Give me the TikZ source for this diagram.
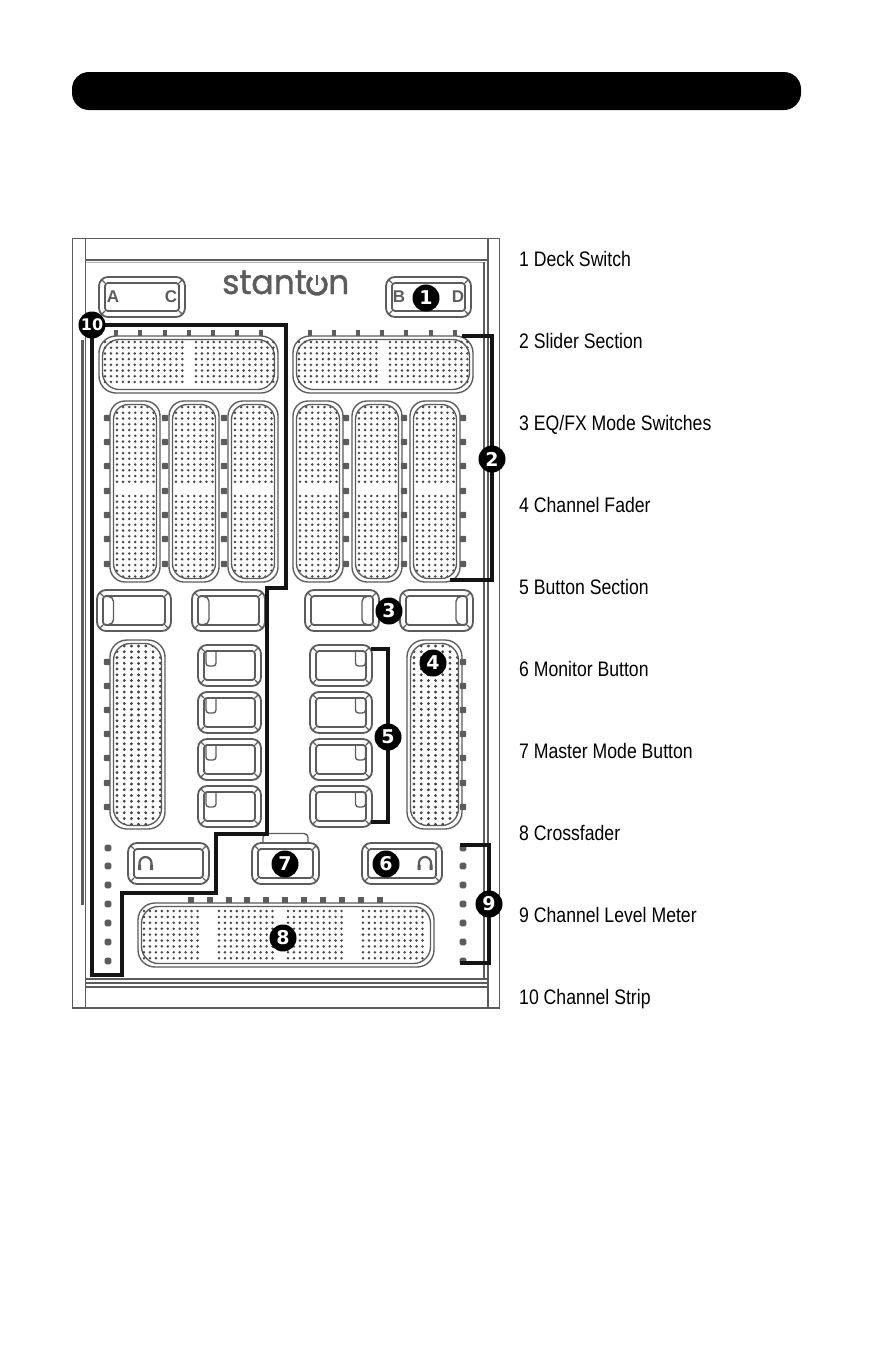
\documentclass[tikz,border=0pt]{standalone}
\usepackage{fontspec}
\setmainfont{Liberation Sans}[FakeStretch=0.84,Ligatures=NoCommon]
\newfontfamily\logofont{Poppins}[FakeBold=1.1,FakeStretch=0.97]
\newfontfamily\badgefont{DejaVu Sans Bold}
\newfontfamily\keyfont{Liberation Sans Bold}
\pgfdeclarelayer{device}
\pgfdeclarelayer{conn}
\pgfsetlayers{device,conn,main}
\definecolor{dev}{gray}{0.36}
\definecolor{dotc}{gray}{0.28}
\tikzset{
  x=1pt,y=-1pt,
  outline/.style={draw=dev,line width=1.8pt},
  thin outline/.style={draw=dev,line width=1.35pt},
  badge/.style={circle,fill=black,text=white,minimum size=27pt,inner sep=0pt,font=\badgefont\fontsize{19}{19}\selectfont},
  lab/.style={anchor=base west,inner sep=0pt,font=\fontsize{21}{22}\selectfont,text=black},
  key/.style={font=\keyfont\fontsize{17}{17}\selectfont,text=dev,inner sep=0pt},
  callout/.style={draw=black!92,line width=3.6pt,line join=miter},
  tick/.style={fill=dev},
}
\newcommand{\btn}[4]{%
  \draw[outline,rounded corners=9pt] (#1,#2) rectangle (#3,#4);
  \draw[outline,rounded corners=3pt] ({#1+6},{#2+6}) rectangle ({#3-6},{#4-6});
  \draw[thin outline] ({#1+2.5},{#2+2.5}) -- ({#1+6},{#2+6}) ({#3-2.5},{#2+2.5}) -- ({#3-6},{#2+6})
     ({#1+2.5},{#4-2.5}) -- ({#1+6},{#4-6}) ({#3-2.5},{#4-2.5}) -- ({#3-6},{#4-6});
}
\newcommand{\sliderbody}[5]{%
  \draw[thin outline,rounded corners=#5 pt] (#1,#2) rectangle (#3,#4);
  \draw[thin outline,rounded corners=#5 pt] ({#1+3.5},{#2+3.5}) rectangle ({#3-3.5},{#4-3.5});
}
\newcommand{\dotgrid}[6]{% x1 x2 y1 y2 spx spy
  \pgfmathsetmacro\gxb{#1+#5}\pgfmathsetmacro\gyb{#3+#6}%
  \fill[dotc] \foreach \xx in {#1,\gxb,...,#2}{\foreach \yy in {#3,\gyb,...,#4}{(\xx,\yy) circle (1.4pt)}};
}
\def\vspx{6.1}
\newcommand{\vslider}[7]{% x1 y1 x2 y2 r yGapStart yGapEnd
  \sliderbody{#1}{#2}{#3}{#4}{#5}
  \begin{scope}
    \clip[rounded corners=#5 pt] ({#1+4},{#2+4}) rectangle ({#3-4},{#4-4});
    \pgfmathsetmacro\dxa{#1+7}\pgfmathsetmacro\dxb{#3-3}\pgfmathsetmacro\dya{#2+6}\pgfmathsetmacro\dyb{#4-3}
    \dotgrid{\dxa}{\dxb}{\dya}{#6}{\vspx}{5.75}
    \dotgrid{\dxa}{\dxb}{#7}{\dyb}{\vspx}{5.75}
  \end{scope}
}
\newcommand{\phones}[2]{%
  \draw[draw=dev,line width=2.2pt] ({#1-6},{#2+6}) -- ({#1-6},{#2}) arc[start angle=180,end angle=0,radius=6pt] -- ({#1+6},{#2+6});
  \fill[dev] ({#1-7.5},{#2+1.5}) rectangle ({#1-4.5},{#2+7}) ({#1+4.5},{#2+1.5}) rectangle ({#1+7.5},{#2+7});
}
\begin{document}
\begin{tikzpicture}
\useasboundingbox (0,0) rectangle (873,1349);
\begin{pgfonlayer}{device}
\fill[white] (0,0) rectangle (873,1349);
% title bar
\fill[black,rounded corners=17pt] (72,72) rectangle (801,110);
% case
\draw[outline] (72.5,238.5) rectangle (499.5,1008);
\draw[outline] (85.5,238.5) -- (85.5,1008);
\draw[draw=dev,line width=2.2pt] (488,238.5) -- (488,1008);
\draw[outline] (85.5,260) -- (488,260);
\draw[draw=gray!60,line width=1pt] (86,262.5) -- (484,262.5);
\draw[draw=dev,line width=2.2pt] (484.3,262) -- (484.3,979);
\draw[draw=dev,line width=2.6pt] (82.3,340) -- (82.3,905);
\draw[outline] (85.5,979) -- (488,979);
\draw[thin outline] (85.5,983) -- (488,983);
\draw[outline] (85.5,987) -- (488,987);
% logo
\node[inner sep=0pt,anchor=base west,text=dev,font=\logofont\fontsize{34}{34}\selectfont] (logoa) at (222,294) {stant};
\node[inner sep=0pt,anchor=base west,text=dev,font=\logofont\fontsize{34}{34}\selectfont] (logob) at (328,294) {n};
\draw[draw=dev,line width=3.6pt] (317,285) ++(125:9pt) arc[start angle=125,end angle=415,radius=9pt];
\draw[draw=dev,line width=2.8pt] (317,274.5) -- (317,285);
% deck switches
\btn{99}{277}{185}{317}
\btn{386}{277}{471}{317}
\node[key] (la) at (113,297) {A};
\node[key] (lc) at (171,297) {C};
\node[key] (lb) at (399,297) {B};
\node[key] (ld) at (458,297) {D};
% top sliders
\sliderbody{99}{336}{278}{393}{17}
\sliderbody{293}{336}{473}{393}{17}
\dotgrid{105}{183}{342}{387}{5.95}{5.7}
\dotgrid{196}{274}{342}{387}{5.95}{5.7}
\dotgrid{299}{377}{342}{387}{5.95}{5.7}
\dotgrid{390}{468}{342}{387}{5.95}{5.7}
\foreach \tx in {116,140,165,189,213,237,261,310,334,358,382,406,431,455}{\fill[tick] ({\tx-1.8},330) rectangle ({\tx+1.8},336);}
% EQ sliders
\foreach \xa/\xb in {110/160,169/219,228/278,293/343,352/402,410/460}{\vslider{\xa}{401}{\xb}{582}{15}{485}{496}}
\foreach \ty in {418,442,466,491,515,539,564}{
  \foreach \tx in {107,165,224,346,404,463}{\fill[tick,rounded corners=1pt] ({\tx-3.2},{\ty-3.2}) rectangle ({\tx+3.2},{\ty+3.2});}
}
% EQ/FX mode switches
\btn{97}{590}{171}{631}\btn{192}{590}{265}{631}\btn{305}{590}{379}{631}\btn{400}{590}{473}{631}
\draw[thin outline,rounded corners=5pt] (103,596.5) -- (113.5,596.5) -- (113.5,624.5) -- (103,624.5);
\draw[thin outline,rounded corners=5pt] (198,596.5) -- (209,596.5) -- (209,624.5) -- (198,624.5);
\draw[thin outline,rounded corners=5pt] (373,596.5) -- (362,596.5) -- (362,624.5) -- (373,624.5);
\draw[thin outline,rounded corners=5pt] (467,596.5) -- (456,596.5) -- (456,624.5) -- (467,624.5);
% channel faders
\def\vspx{7.2}
\vslider{110}{640}{165}{829}{17}{1000}{646}
\vslider{407}{640}{462}{829}{17}{1000}{646}
\foreach \ty in {662,686,710,734,758,783,807}{
  \foreach \tx in {107,463}{\fill[tick,rounded corners=1pt] ({\tx-3.2},{\ty-3.2}) rectangle ({\tx+3.2},{\ty+3.2});}
}
% small buttons
\foreach \ya/\yb in {645/686,692/733,739/780,786/827}{
  \btn{198}{\ya}{261}{\yb}
  \btn{310}{\ya}{372}{\yb}
  \draw[thin outline,rounded corners=3pt] (206,{\ya+6}) -- (206,{\ya+21}) -- (216,{\ya+21}) -- (216,{\ya+6});
  \draw[thin outline,rounded corners=3pt] (365.5,{\ya+6}) -- (365.5,{\ya+21}) -- (355.5,{\ya+21}) -- (355.5,{\ya+6});
}
% bottom buttons
\btn{128}{843}{209}{884}
\btn{252}{843}{319}{884}
\btn{362}{843}{442}{884}
\draw[thin outline,rounded corners=4pt] (263,843) -- (263,833.5) -- (308,833.5) -- (308,843);
\phones{145.5}{863}
\phones{425}{863}
% crossfader
\sliderbody{138}{903}{434}{967}{17}
\dotgrid{144}{203}{911}{960}{5.95}{5.9}
\dotgrid{219}{278}{911}{960}{5.95}{5.9}
\dotgrid{288}{347}{911}{960}{5.95}{5.9}
\dotgrid{363}{428}{911}{960}{5.95}{5.9}
\foreach \tx in {191,210,229,247,266,285,304,323,342,361,380}{\fill[tick] ({\tx-2.8},897) rectangle ({\tx+2.8},903);}
% meters
\foreach \ty in {848,866,885,904,923,942,961}{
  \foreach \tx in {108,463}{\fill[tick,rounded corners=1.5pt] ({\tx-3.4},{\ty-3.3}) rectangle ({\tx+3.4},{\ty+3.3});}
}
\end{pgfonlayer}
% badges
\node[badge] (n1) at (426,298) {1};
\node[badge] (n2) at (492,459) {2};
\node[badge] (n3) at (389,611) {3};
\node[badge] (n4) at (433,663) {4};
\node[badge] (n5) at (388,737) {5};
\node[badge] (n6) at (386,864) {6};
\node[badge] (n7) at (285,864) {7};
\node[badge] (n8) at (283,938) {8};
\node[badge] (n9) at (489,904) {9};
\node[badge,font=\badgefont\fontsize{16}{16}\selectfont] (n10) at (92,325) {10};
% bracket ends
\coordinate (b2a) at (462,336);
\coordinate (b2b) at (450,580);
\coordinate (b5a) at (371,649);
\coordinate (b5b) at (371,822);
\coordinate (b9a) at (460,845);
\coordinate (b9b) at (460,963);
\coordinate (s1) at (286,325);
\coordinate (s2) at (286,588);
\coordinate (s3) at (267,588);
\coordinate (s4) at (267,834);
\coordinate (s5) at (216,834);
\coordinate (s6) at (216,893);
\coordinate (s7) at (122,893);
\coordinate (s8) at (122,975);
\coordinate (s9) at (92,975);
\begin{pgfonlayer}{conn}
\draw[callout] (n2.center) |- (b2a);
\draw[callout] (n2.center) |- (b2b);
\draw[callout] (n5.center) |- (b5a);
\draw[callout] (n5.center) |- (b5b);
\draw[callout] (n9.center) |- (b9a);
\draw[callout] (n9.center) |- (b9b);
\draw[callout] (n10.center) -- (s1) -- (s2) -- (s3) -- (s4) -- (s5) -- (s6) -- (s7) -- (s8) -- (s9) -- cycle;
\end{pgfonlayer}
% labels
\node[lab] (t1) at (519,266) {1 Deck Switch};
\node[lab] (t2) at (519,348) {2 Slider Section};
\node[lab] (t3) at (519,430) {3 EQ/FX Mode Switches};
\node[lab] (t4) at (519,512) {4 Channel Fader};
\node[lab] (t5) at (519,594) {5 Button Section};
\node[lab] (t6) at (519,676) {6 Monitor Button};
\node[lab] (t7) at (519,758) {7 Master Mode Button};
\node[lab] (t8) at (519,840) {8 Crossfader};
\node[lab] (t9) at (519,922) {9 Channel Level Meter};
\node[lab] (t10) at (519,1004) {10 Channel Strip};
\end{tikzpicture}
\end{document}
